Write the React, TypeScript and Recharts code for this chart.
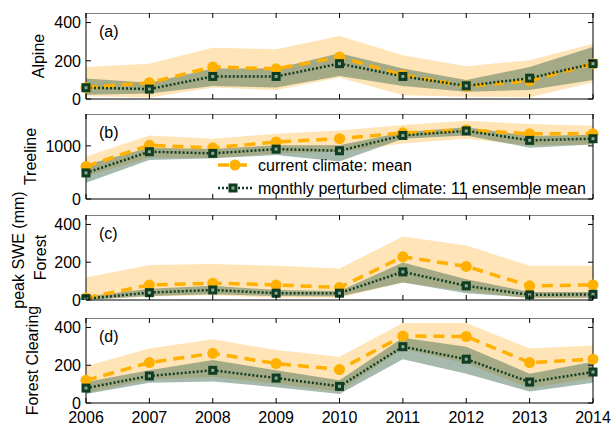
import React from 'react';
import { ComposedChart, Area, Line, XAxis, YAxis, ReferenceLine } from 'recharts';

const years = [2006, 2007, 2008, 2009, 2010, 2011, 2012, 2013, 2014];

// (a) Alpine
const alpineCurMean = [60, 85, 168, 158, 220, 125, 67, 95, 185];
const alpineCurLo = [15, 8, 60, 47, 112, 20, 12, 9, 87];
const alpineCurHi = [168, 185, 268, 260, 329, 229, 171, 203, 289];
const alpinePertMean = [59, 52, 118, 118, 185, 118, 69, 109, 185];
const alpinePertLo = [22, 29, 68, 60, 120, 68, 38, 47, 99];
const alpinePertHi = [107, 85, 159, 159, 240, 159, 99, 168, 272];

// (b) Treeline
const treeCurMean = [613, 1012, 963, 1074, 1135, 1245, 1300, 1227, 1227];
const treeCurLo = [430, 779, 767, 859, 890, 1043, 1135, 1012, 1025];
const treeCurHi = [798, 1196, 1135, 1227, 1288, 1393, 1472, 1411, 1380];
const treePertMean = [491, 890, 859, 939, 908, 1196, 1282, 1104, 1135];
const treePertLo = [307, 736, 767, 828, 706, 1135, 1196, 963, 1025];
const treePertHi = [644, 963, 939, 1012, 1012, 1258, 1350, 1184, 1209];

// (c) Forest
const forestCurMean = [11, 80, 89, 80, 66, 229, 178, 75, 80];
const forestCurLo = [0, 18, 25, 12, 12, 92, 48, 7, 7];
const forestCurHi = [119, 185, 190, 181, 167, 336, 288, 181, 181];
const forestPertMean = [7, 39, 53, 36, 36, 149, 75, 27, 30];
const forestPertLo = [0, 21, 30, 21, 18, 92, 36, 12, 12];
const forestPertHi = [18, 60, 75, 53, 48, 199, 110, 43, 43];

// (d) Forest Clearing
const clearCurMean = [120, 214, 263, 209, 177, 355, 352, 214, 232];
const clearCurLo = [54, 125, 138, 102, 61, 289, 209, 79, 132];
const clearCurHi = [195, 289, 338, 280, 245, 423, 423, 289, 304];
const clearPertMean = [79, 143, 173, 132, 88, 298, 232, 111, 164];
const clearPertLo = [48, 107, 114, 84, 48, 232, 155, 61, 107];
const clearPertHi = [111, 173, 227, 173, 120, 346, 298, 155, 218];

const FONT = '"Liberation Sans", Arial, Helvetica, sans-serif';
const ORANGE = '#ffb000';
const DKGREEN = '#0f3d22';
const PLOT_LEFT = 86;
const PLOT_W = 507;
const FS = 16;

const makeRows = (cm, cl, ch, pm, pl, ph) =>
  years.map((year, i) => ({
    year,
    cur: cm[i],
    curBand: [cl[i], ch[i]],
    pert: pm[i],
    pertBand: [pl[i], ph[i]],
  }));

const XTick = (props: any) => {
  const { x, y, payload, plotH, show } = props;
  return (
    <g>
      <line x1={x} x2={x} y1={y} y2={y - 5} stroke="#000" />
      <line x1={x} x2={x} y1={y - plotH} y2={y - plotH + 5} stroke="#000" />
      {show && (
        <text x={x} y={y + 8} dy="0.75em" textAnchor="middle" fontSize={FS} fill="#000" fontFamily={FONT}>
          {payload.value}
        </text>
      )}
    </g>
  );
};

const YTick = (props: any) => {
  const { x, y, payload } = props;
  return (
    <g>
      <line x1={x} x2={x + 5} y1={y} y2={y} stroke="#000" />
      <line x1={x + PLOT_W} x2={x + PLOT_W - 5} y1={y} y2={y} stroke="#000" />
      <text x={x - 5} y={y} dy="0.36em" textAnchor="end" fontSize={FS} fill="#000" fontFamily={FONT}>
        {payload.value}
      </text>
    </g>
  );
};

const CircleDot = (p: any) => <circle key={`c${p.index}`} cx={p.cx} cy={p.cy} r={5.5} fill={ORANGE} />;

const SquareDot = (p: any) => (
  <g key={`s${p.index}`}>
    <rect x={p.cx - 4.5} y={p.cy - 4.5} width={9} height={9} fill={DKGREEN} />
    <rect x={p.cx - 1.5} y={p.cy - 1.5} width={3} height={3} fill="#8fa894" />
  </g>
);

const Panel = ({ top, height, data, max, ticks, showYears }: any) => {
  const axisH = showYears ? 24 : 10;
  return (
    <div style={{ position: 'absolute', left: 0, top }}>
      <ComposedChart
        width={611}
        height={height + axisH}
        data={data}
        margin={{ top: 0, right: 611 - PLOT_LEFT - PLOT_W, bottom: 0, left: 0 }}
      >
        <XAxis
          dataKey="year"
          type="number"
          domain={[2006, 2014]}
          ticks={years}
          interval={0}
          height={axisH}
          axisLine={{ stroke: '#000' }}
          tickLine={false}
          tickSize={0}
          tickMargin={0}
          tick={<XTick plotH={height} show={showYears} />}
        />
        <YAxis
          type="number"
          width={PLOT_LEFT}
          domain={[0, max]}
          ticks={ticks}
          interval={0}
          allowDataOverflow
          axisLine={{ stroke: '#000' }}
          tickLine={false}
          tickSize={0}
          tickMargin={0}
          tick={<YTick />}
        />
        <Area dataKey="curBand" stroke="none" fill="#fbb53a" fillOpacity={0.37} isAnimationActive={false} />
        <Line
          dataKey="cur"
          stroke={ORANGE}
          strokeWidth={3.5}
          strokeDasharray="11 7"
          dot={CircleDot}
          activeDot={false}
          isAnimationActive={false}
        />
        <Area dataKey="pertBand" stroke="none" fill="#37644a" fillOpacity={0.45} isAnimationActive={false} />
        <Line
          dataKey="pert"
          stroke={DKGREEN}
          strokeWidth={2.5}
          strokeDasharray="2 2"
          dot={SquareDot}
          activeDot={false}
          isAnimationActive={false}
        />
        <ReferenceLine y={max} stroke="#000" />
        <ReferenceLine x={2014} stroke="#000" />
      </ComposedChart>
    </div>
  );
};

const panels = [
  { tag: '(a)', label: 'Alpine', labelX: 38, top: 13, height: 86, max: 450, ticks: [0, 200, 400], data: makeRows(alpineCurMean, alpineCurLo, alpineCurHi, alpinePertMean, alpinePertLo, alpinePertHi) },
  { tag: '(b)', label: 'Treeline', labelX: 30, top: 114, height: 85, max: 1600, ticks: [0, 1000], data: makeRows(treeCurMean, treeCurLo, treeCurHi, treePertMean, treePertLo, treePertHi) },
  { tag: '(c)', label: 'Forest', labelX: 40, top: 215, height: 85, max: 450, ticks: [0, 200, 400], data: makeRows(forestCurMean, forestCurLo, forestCurHi, forestPertMean, forestPertLo, forestPertHi) },
  { tag: '(d)', label: 'Forest Clearing', labelX: 32, top: 318, height: 85, max: 450, ticks: [0, 200, 400], data: makeRows(clearCurMean, clearCurLo, clearCurHi, clearPertMean, clearPertLo, clearPertHi) },
];

export default function App() {
  return (
    <div style={{ position: 'absolute', left: 0, top: 0, width: 611, height: 425, background: '#fff', fontFamily: FONT, overflow: 'hidden' }}>
      {panels.map((p, i) => (
        <Panel key={p.tag} top={p.top} height={p.height} data={p.data} max={p.max} ticks={p.ticks} showYears={i === panels.length - 1} />
      ))}
      <svg width={611} height={425} style={{ position: 'absolute', left: 0, top: 0, pointerEvents: 'none' }}>
        {panels.map((p) => (
          <g key={p.label}>
            <text x={99} y={p.top + 18} dy="0.36em" fontSize={FS} fontFamily={FONT} fill="#000">
              {p.tag}
            </text>
            <text
              x={p.labelX}
              y={p.top + p.height / 2}
              textAnchor="middle"
              fontSize={FS}
              fontFamily={FONT}
              fill="#000"
              transform={`rotate(-90 ${p.labelX} ${p.top + p.height / 2})`}
              dy="0.36em"
            >
              {p.label}
            </text>
          </g>
        ))}
        <text x={18} y={250} textAnchor="middle" dy="0.36em" fontSize={FS} fontFamily={FONT} fill="#000" transform="rotate(-90 18 250)">
          peak SWE (mm)
        </text>
        {/* legend */}
        <line x1={218} x2={252} y1={165} y2={165} stroke={ORANGE} strokeWidth={3.5} strokeDasharray="11 7" />
        <circle cx={235} cy={165} r={5.5} fill={ORANGE} />
        <text x={258} y={165} dy="0.36em" fontSize={FS} fontFamily={FONT} fill="#000">current climate: mean</text>
        <line x1={218} x2={252} y1={188} y2={188} stroke={DKGREEN} strokeWidth={2.5} strokeDasharray="2 2" />
        <rect x={228.5} y={183.5} width={9} height={9} fill={DKGREEN} />
        <rect x={231.5} y={186.5} width={3} height={3} fill="#8fa894" />
        <text x={258} y={188} dy="0.36em" fontSize={FS} fontFamily={FONT} fill="#000">monthly perturbed climate: 11 ensemble mean</text>
      </svg>
    </div>
  );
}
